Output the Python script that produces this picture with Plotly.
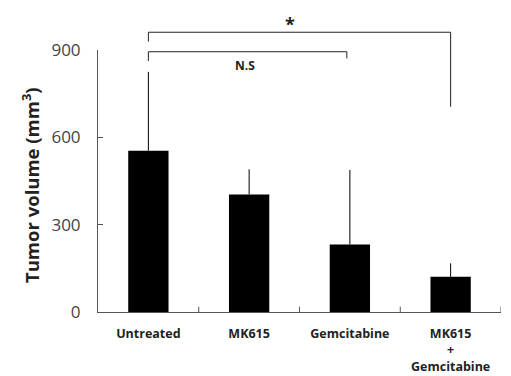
import plotly.graph_objects as go

categories = ["Untreated", "MK615", "Gemcitabine", "MK615<br>+<br>Gemcitabine"]
means = [554, 404, 232, 121]
errors_up = [271, 86, 256, 46]
y_ticks = [0, 300, 600, 900]

# significance brackets (data units of the y axis)
bracket_star = {"x0": 0, "x1": 3, "level": 961, "left_end": 929, "right_end": 705, "label": "*"}
bracket_ns = {"x0": 0, "x1": 1.97, "level": 894, "left_end": 862, "right_end": 871, "label": "N.S"}

YMAX = 900
fig = go.Figure()
fig.add_trace(go.Bar(
    x=list(range(len(categories))), y=means, width=0.4,
    marker=dict(color="black", line=dict(width=0)),
    error_y=dict(type="data", symmetric=False, array=errors_up,
                 arrayminus=[0] * len(means), color="black", thickness=1, width=0),
))

def py(v):
    return v / YMAX

for b in (bracket_star, bracket_ns):
    line = dict(color="#222222", width=1)
    fig.add_shape(type="line", xref="x", yref="paper", x0=b["x0"], x1=b["x1"],
                  y0=py(b["level"]), y1=py(b["level"]), line=line)
    fig.add_shape(type="line", xref="x", yref="paper", x0=b["x0"], x1=b["x0"],
                  y0=py(b["level"]), y1=py(b["left_end"]), line=line)
    fig.add_shape(type="line", xref="x", yref="paper", x0=b["x1"], x1=b["x1"],
                  y0=py(b["level"]), y1=py(b["right_end"]), line=line)

fig.add_annotation(x=1.41, y=py(1038), xref="x", yref="paper", text="<b>*</b>",
                   xanchor="center", yanchor="top",
                   showarrow=False, font=dict(size=18, color="#222222", family="Open Sans"))
fig.add_annotation(x=0.96, y=py(848), xref="x", yref="paper", text="<b>N.S</b>",
                   xanchor="center", yanchor="middle",
                   showarrow=False, font=dict(size=12, color="#222222", family="Open Sans"))

# y-axis title as rotated annotation
fig.add_annotation(x=-0.166, y=0.485, xref="paper", yref="paper", textangle=-90,
                   xanchor="center", yanchor="middle",
                   text="<b>Tumor volume (mm<sup>3</sup>)</b>", showarrow=False,
                   font=dict(size=18.5, color="#222222", family="Open Sans"))

fig.update_layout(
    width=503, height=368,
    margin=dict(l=90, r=10, t=42, b=64, autoexpand=False),
    paper_bgcolor="white", plot_bgcolor="white",
    showlegend=False,
    font=dict(family="Open Sans", color="#222222"),
    xaxis=dict(
        range=[-0.5, 3.5], tickmode="array", tickvals=[0, 1, 2, 3],
        ticktext=["<b>%s</b>" % c for c in categories],
        tickfont=dict(size=12.5, color="#222222"),
        showline=True, linecolor="#555555", linewidth=1,
        ticks="", showgrid=False, zeroline=False, automargin=False,
        ticklabelstandoff=10,
    ),
    yaxis=dict(
        range=[0, YMAX], tickmode="array", tickvals=y_ticks,
        tickfont=dict(size=17, color="#444444"),
        ticks="inside", ticklen=5, tickcolor="#555555",
        showline=True, linecolor="#555555", linewidth=1,
        showgrid=False, zeroline=False, automargin=False,
        ticklabelstandoff=13,
    ),
)
# boundary ticks on the x axis
for xb in [0.5, 1.5, 2.5, 3.5]:
    fig.add_shape(type="line", xref="x", yref="paper", x0=xb, x1=xb, y0=0, y1=0.02,
                  line=dict(color="#555555", width=1))

fig.write_html("out.html")
